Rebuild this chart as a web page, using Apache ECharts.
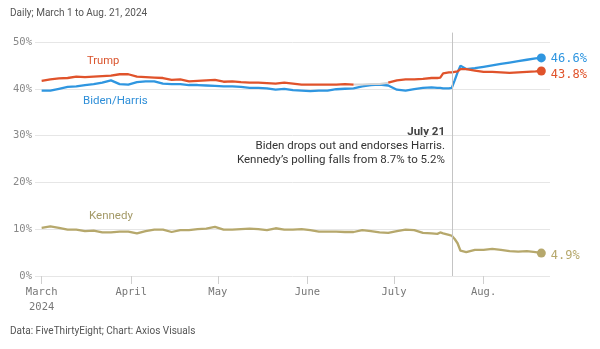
<!DOCTYPE html>
<html><head><meta charset="utf-8">
<script src="https://cdn.jsdelivr.net/npm/echarts@6/dist/echarts.min.js"></script>
<style>html,body{margin:0;padding:0;background:#fff}#c{width:600px;height:349px}</style>
</head><body><div id="c"></div>
<script>
// days since March 1, 2024
const days = [0,3,6,9,12,15,18,21,24,27,30,33,36,39,42,45,48,51,54,57,60,63,66,69,72,75,78,81,84,87,90,93,96,99,102,105,108,111,114,117,120,123,126,129,132,135,137,138,139,141,142,143,144,145,147,150,153,156,159,162,165,168,171,173];
const trump = [41.7,42.0,42.2,42.3,42.6,42.5,42.6,42.7,42.8,43.1,43.1,42.6,42.5,42.4,42.3,41.9,42.0,41.6,41.7,41.8,41.9,41.5,41.6,41.4,41.3,41.3,41.2,41.1,41.3,41.1,40.9,40.9,40.9,40.9,40.9,41.0,40.9,40.9,41.0,41.0,41.3,41.8,42.0,42.0,42.1,42.3,42.3,42.4,43.3,43.5,43.5,43.6,43.7,44.2,44.2,43.9,43.6,43.6,43.5,43.4,43.5,43.6,43.7,43.8];
const biden = [39.6,39.6,40.0,40.4,40.5,40.8,41.0,41.3,41.8,41.0,40.9,41.4,41.6,41.6,41.1,41.0,41.0,40.8,40.8,40.7,40.6,40.5,40.5,40.4,40.2,40.2,40.1,39.8,40.0,39.7,39.6,39.5,39.6,39.6,39.9,40.0,40.1,40.5,40.8,40.9,40.7,39.8,39.6,39.9,40.2,40.3,40.2,40.2,40.1,40.1,40.2,41.8,43.5,44.9,44.2,44.4,44.7,45.0,45.3,45.6,45.9,46.2,46.5,46.6];
const kennedy = [10.3,10.6,10.3,9.9,9.9,9.6,9.7,9.3,9.3,9.5,9.5,9.1,9.6,9.9,9.9,9.4,9.8,9.8,10.0,10.1,10.5,9.9,9.9,10.0,10.1,10.0,9.8,10.2,9.9,9.9,10.0,9.8,9.5,9.5,9.5,9.4,9.4,9.8,9.6,9.3,9.2,9.6,9.9,9.8,9.2,9.1,9.0,9.3,9.1,8.8,8.6,7.9,7.0,5.4,5.1,5.6,5.6,5.8,5.6,5.3,5.2,5.3,5.1,4.9];
const tieRange = [108, 120];
const tickDays = [0,31,61,92,122,153];
const tickLabels = ['March\n2024','April','May','June','July','Aug.'];
const yTicks = [0,10,20,30,40,50];
const eventDay = 142;
const titleText = 'Daily; March 1 to Aug. 21, 2024';
const footerText = 'Data: FiveThirtyEight; Chart: Axios Visuals';
const noteLines = ['July 21','Biden drops out and endorses Harris.','Kennedy\u2019s polling falls from 8.7% to 5.2%'];

const C = {trump:'#e0532b', biden:'#2f96e0', kennedy:'#b6a86c', tie:'#d4d4d4'};
const MONO = '"DejaVu Sans Mono", "Liberation Mono", monospace';
const SANS = 'Roboto, "Noto Sans", sans-serif';

function build(vals, color, lastOffset, mask) {
  return days.map((d, i) => {
    let v = vals[i];
    if (mask && !mask(d)) v = null;
    if (i === days.length - 1) {
      return {value:[d, v], symbol:'circle', symbolSize:9,
        label:{show:true, position:'right', distance:5, offset:[0,lastOffset],
          formatter: v.toFixed(1) + '%', color: color, fontFamily: MONO, fontSize: 12}};
    }
    return [d, v];
  });
}

const chart = echarts.init(document.getElementById('c'), null, {renderer:'canvas'});
const lineBase = {type:'line', symbol:'none', showSymbol:true, smooth:false, connectNulls:false, silent:true, animation:false};

chart.setOption({
  animation:false,
  grid:{left:35, right:50, top:32.6, bottom:73},
  xAxis:{type:'value', min:-2.3, max:176,
    axisLine:{show:false}, splitLine:{show:false},
    axisTick:{show:true, customValues:tickDays, length:8, lineStyle:{color:'#cfcfcf'}},
    axisLabel:{customValues:tickDays, formatter:v => tickLabels[tickDays.indexOf(v)],
      fontFamily:MONO, fontSize:10.5, color:'#777', margin:9, lineHeight:15}},
  yAxis:{type:'value', min:0, max:52, interval:10,
    axisLine:{show:false}, axisTick:{show:false},
    axisLabel:{customValues:yTicks, formatter:v => v + '%', fontFamily:MONO, fontSize:10.5, color:'#888', margin:3},
    splitLine:{showMaxLine:false, lineStyle:{color:'#e6e6e6', width:1}}},
  series:[
    Object.assign({}, lineBase, {name:'Kennedy', data:build(kennedy, C.kennedy, 3),
      itemStyle:{color:C.kennedy}, lineStyle:{color:C.kennedy, width:2.3},
      markLine:{silent:true, symbol:'none', label:{show:false},
        lineStyle:{color:'#c4c4c4', width:1, type:'solid'},
        data:[[{coord:[eventDay,0]},{coord:[eventDay,52]}]]}}),
    Object.assign({}, lineBase, {name:'Biden/Harris', data:build(biden, C.biden, 1),
      itemStyle:{color:C.biden}, lineStyle:{color:C.biden, width:2.3}}),
    Object.assign({}, lineBase, {name:'tie', data:days.map((d,i) => [d, (d >= tieRange[0] && d <= tieRange[1]) ? trump[i] : null]),
      lineStyle:{color:C.tie, width:2}}),
    Object.assign({}, lineBase, {name:'Trump', data:build(trump, C.trump, 4, d => d <= tieRange[0] || d >= tieRange[1]),
      itemStyle:{color:C.trump}, lineStyle:{color:C.trump, width:2.3}})
  ],
  graphic:[
    {type:'text', left:10, top:8, style:{text:titleText, font:'10px ' + SANS, fill:'#555'}},
    {type:'text', left:10, top:326, style:{text:footerText, font:'10px ' + SANS, fill:'#555'}},
    {type:'text', x:87, y:61, style:{text:'Trump', font:'11.2px ' + SANS, fill:'#d9532c', textVerticalAlign:'middle'}},
    {type:'text', x:83, y:101, style:{text:'Biden/Harris', font:'11.5px ' + SANS, fill:'#2f8fd8', textVerticalAlign:'middle'}},
    {type:'text', x:89, y:216, style:{text:'Kennedy', font:'11.5px ' + SANS, fill:'#a49a68', textVerticalAlign:'middle'}},
    {type:'text', x:445, y:132.5, style:{text:noteLines[0], font:'bold 11.5px ' + SANS, fill:'#444', textAlign:'right', textVerticalAlign:'middle'}},
    {type:'text', x:445, y:146.5, style:{text:noteLines[1], font:'11.5px ' + SANS, fill:'#333', textAlign:'right', textVerticalAlign:'middle'}},
    {type:'text', x:445, y:160.5, style:{text:noteLines[2], font:'11.5px ' + SANS, fill:'#333', textAlign:'right', textVerticalAlign:'middle'}}
  ]
});
</script></body></html>
